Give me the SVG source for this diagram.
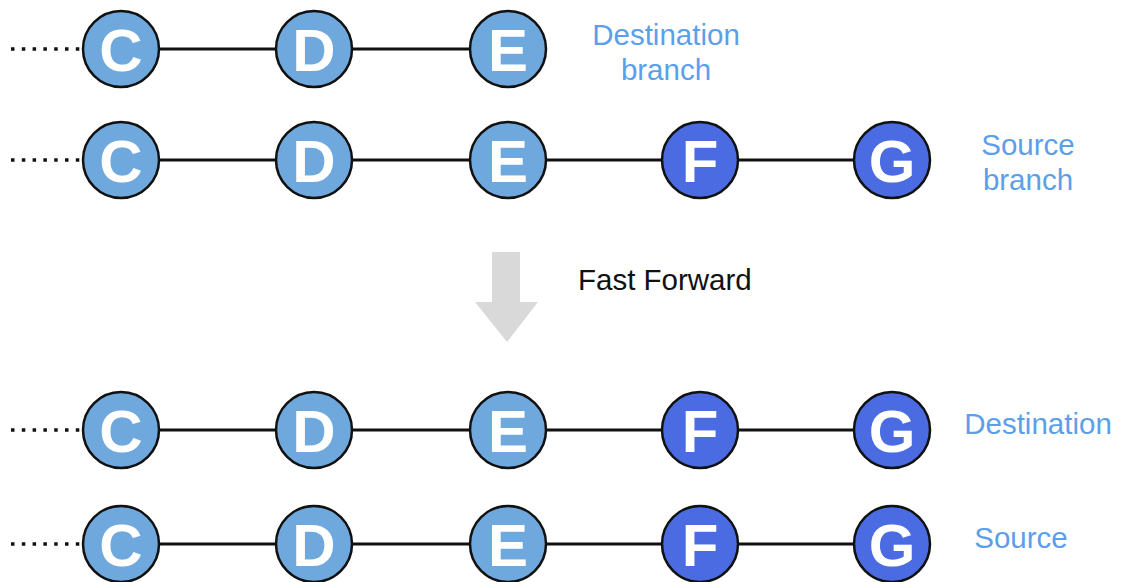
<svg xmlns="http://www.w3.org/2000/svg" width="1121" height="582" viewBox="0 0 1121 582">
<style>
.lt{fill:#6fa8dc;stroke:#111;stroke-width:2.5}
.dk{fill:#4a6be2;stroke:#111;stroke-width:2.5}
.ch{font-family:"Liberation Sans",Arial,sans-serif;font-weight:bold;font-size:60px;fill:#fff;text-anchor:middle}
.lb{font-family:"Liberation Sans",Arial,sans-serif;font-size:29.5px;fill:#5c9fe9;text-anchor:middle}
.ff{font-family:"Liberation Sans",Arial,sans-serif;font-size:29.5px;fill:#111}
.ln{stroke:#111;stroke-width:3;fill:none}
.dot{stroke:#111;stroke-width:3.5;stroke-dasharray:3.5 7.3;fill:none}
</style>
<g id="connectors">
<line class="dot" x1="11" y1="49" x2="80" y2="49"/>
<line class="dot" x1="11" y1="160" x2="80" y2="160"/>
<line class="dot" x1="11" y1="430" x2="80" y2="430"/>
<line class="dot" x1="11" y1="544" x2="80" y2="544"/>
<line class="ln" x1="121" y1="49" x2="508" y2="49"/>
<line class="ln" x1="121" y1="160" x2="892" y2="160"/>
<line class="ln" x1="121" y1="430" x2="892" y2="430"/>
<line class="ln" x1="121" y1="544" x2="892" y2="544"/>
</g>
<g id="row1">
<g id="r1c"><circle class="lt" cx="121" cy="49" r="38"/><text class="ch" x="121" y="70.5">C</text></g>
<g id="r1d"><circle class="lt" cx="314" cy="49" r="38"/><text class="ch" x="314" y="70.5">D</text></g>
<g id="r1e"><circle class="lt" cx="508" cy="49" r="38"/><text class="ch" x="508" y="70.5">E</text></g>
<g id="r1label"><text class="lb" x="666" y="45">Destination</text><text class="lb" x="666" y="80">branch</text></g>
</g>
<g id="row2">
<g id="r2c"><circle class="lt" cx="121" cy="160" r="38"/><text class="ch" x="121" y="181.5">C</text></g>
<g id="r2d"><circle class="lt" cx="314" cy="160" r="38"/><text class="ch" x="314" y="181.5">D</text></g>
<g id="r2e"><circle class="lt" cx="508" cy="160" r="38"/><text class="ch" x="508" y="181.5">E</text></g>
<g id="r2f"><circle class="dk" cx="700" cy="160" r="38"/><text class="ch" x="700" y="181.5">F</text></g>
<g id="r2g"><circle class="dk" cx="892" cy="160" r="38"/><text class="ch" x="892" y="181.5">G</text></g>
<g id="r2label"><text class="lb" x="1028" y="155">Source</text><text class="lb" x="1028" y="190">branch</text></g>
</g>
<g id="fastforward">
<polygon points="492,252 520,252 520,302 538,302 507,342 475,302 492,302" fill="#d9d9d9"/>
<text class="ff" x="578" y="290">Fast Forward</text>
</g>
<g id="row3">
<g id="r3c"><circle class="lt" cx="121" cy="430" r="38"/><text class="ch" x="121" y="451.5">C</text></g>
<g id="r3d"><circle class="lt" cx="314" cy="430" r="38"/><text class="ch" x="314" y="451.5">D</text></g>
<g id="r3e"><circle class="lt" cx="508" cy="430" r="38"/><text class="ch" x="508" y="451.5">E</text></g>
<g id="r3f"><circle class="dk" cx="700" cy="430" r="38"/><text class="ch" x="700" y="451.5">F</text></g>
<g id="r3g"><circle class="dk" cx="892" cy="430" r="38"/><text class="ch" x="892" y="451.5">G</text></g>
<g id="r3label"><text class="lb" x="1038" y="434">Destination</text></g>
</g>
<g id="row4">
<g id="r4c"><circle class="lt" cx="121" cy="544" r="38"/><text class="ch" x="121" y="565.5">C</text></g>
<g id="r4d"><circle class="lt" cx="314" cy="544" r="38"/><text class="ch" x="314" y="565.5">D</text></g>
<g id="r4e"><circle class="lt" cx="508" cy="544" r="38"/><text class="ch" x="508" y="565.5">E</text></g>
<g id="r4f"><circle class="dk" cx="700" cy="544" r="38"/><text class="ch" x="700" y="565.5">F</text></g>
<g id="r4g"><circle class="dk" cx="892" cy="544" r="38"/><text class="ch" x="892" y="565.5">G</text></g>
<g id="r4label"><text class="lb" x="1021" y="548">Source</text></g>
</g>
</svg>
